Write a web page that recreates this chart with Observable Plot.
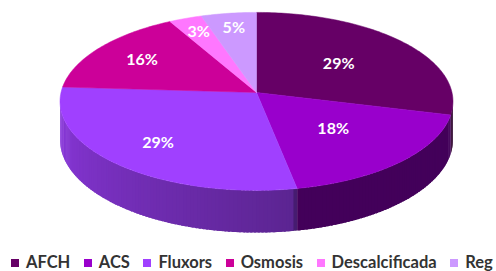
<!DOCTYPE html>
<html>
<head>
<meta charset="utf-8">
<script src="https://cdn.jsdelivr.net/npm/d3@7"></script>
<script src="https://cdn.jsdelivr.net/npm/@observablehq/plot@0.6"></script>
<style>
  html, body { margin: 0; padding: 0; background: #fff; }
  #chart svg { display: block; }
  #legend { display: flex; justify-content: flex-start; padding-left: 11px; gap: 13.5px; height: 17px; line-height: 17px;
            font-family: Lato, "Open Sans", sans-serif; font-weight: bold; font-size: 16.5px; color: #333; white-space: nowrap; }
  #legend .item { display: flex; align-items: center; }
  #legend .sw { width: 8px; height: 8px; margin-right: 7px; display: inline-block; }
</style>
</head>
<body>
<div id="chart"></div>
<div id="legend"></div>
<script>
// ---- data ----
const categories = ["AFCH", "ACS", "Fluxors", "Osmosis", "Descalcificada", "Reg"];
const values = [29, 18, 29, 16, 3, 5];
// ---- styles ----
const colors = ["#660066", "#9900cc", "#a040ff", "#cc0099", "#ff77ff", "#cc99ff"];

const W = 496, H = 254;
const persp = 0.1;          // perspective strength
const depth = 0.431;        // thickness, in y units
const total = d3.sum(values);
const arcs = d3.pie().sort(null).startAngle(0).endAngle(2 * Math.PI)(values);

function proj(theta, f = 1, drop = 0) {
  const u = f * Math.sin(theta), w = -f * Math.cos(theta);
  const s = 1 / (1 - persp * w);
  return {x: u * s, y: (w + drop) * s};
}

const step = Math.PI / 180;
// top faces
const tops = [];
arcs.forEach((a, i) => {
  const c = proj(0, 0);
  tops.push({id: "t" + i, ...c, color: colors[i]});
  const n = Math.max(2, Math.ceil((a.endAngle - a.startAngle) / step));
  for (let k = 0; k <= n; k++) {
    const t = a.startAngle + (a.endAngle - a.startAngle) * k / n;
    tops.push({id: "t" + i, ...proj(t), color: colors[i]});
  }
  tops.push({id: "t" + i, ...c, color: colors[i]});
});

// visible side wall, drawn as overlapping strips (gradient shading)
const thR = Math.acos(-persp), thL = 2 * Math.PI - Math.acos(-persp);
const shade = deg => deg < 170 ? 0.44 : 0.57 + 0.30 * (deg - 170) / 95;
const sides = [];
arcs.forEach((a, i) => {
  const t0 = Math.max(a.startAngle, thR), t1 = Math.min(a.endAngle, thL);
  if (t1 <= t0) return;
  const n = Math.max(1, Math.ceil((t1 - t0) / step));
  const base = d3.rgb(colors[i]);
  for (let k = 0; k < n; k++) {
    const a0 = t0 + (t1 - t0) * k / n;
    const a1 = Math.min(t1, t0 + (t1 - t0) * (k + 1.6) / n);
    const m = (t0 + (t1 - t0) * (k + 0.5) / n) * 180 / Math.PI;
    const f = shade(m);
    const col = d3.rgb(base.r * f, base.g * f, base.b * f).formatHex();
    const id = "s" + i + "_" + k;
    const pts = [];
    const sub = 4;
    for (let j = 0; j <= sub; j++) pts.push(proj(a0 + (a1 - a0) * j / sub));
    for (let j = sub; j >= 0; j--) pts.push(proj(a0 + (a1 - a0) * j / sub, 1, depth));
    pts.forEach(p => sides.push({id, ...p, color: col}));
  }
});

// labels
const labels = arcs.map((a, i) => {
  const mid = (a.startAngle + a.endAngle) / 2;
  const f = values[i] / total < 0.1 ? 0.8 : (mid > Math.PI ? 0.72 : 0.55);
  return {...proj(mid, f), text: Math.round(values[i] / total * 100) + "%"};
});

const chart = Plot.plot({
  width: W, height: H, margin: 0,
  x: {domain: [-1, 1], range: [60.5, 451.5], axis: null},
  y: {domain: [-1, 1], range: [3.9, 180.1], axis: null},
  color: {type: "identity"},
  style: {background: "white"},
  marks: [
    Plot.line(sides, {x: "x", y: "y", z: "id", fill: "color", stroke: "none", curve: "linear-closed"}),
    Plot.line(tops, {x: "x", y: "y", z: "id", fill: "color", stroke: "color", strokeWidth: 0.5, curve: "linear-closed"}),
    Plot.text(labels, {x: "x", y: "y", text: "text", fill: "white", fontSize: 16, fontWeight: "bold", fontFamily: "Lato, 'Open Sans', sans-serif"})
  ]
});
document.getElementById("chart").appendChild(chart);

const legend = document.getElementById("legend");
categories.forEach((c, i) => {
  const it = document.createElement("div");
  it.className = "item";
  const sw = document.createElement("span");
  sw.className = "sw";
  sw.style.background = colors[i];
  it.appendChild(sw);
  it.appendChild(document.createTextNode(c));
  legend.appendChild(it);
});
</script>
</body>
</html>
